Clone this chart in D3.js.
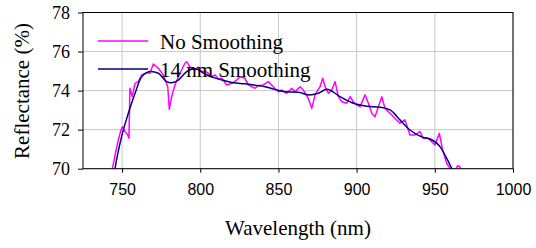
<!DOCTYPE html>
<html><head><meta charset="utf-8">
<script src="https://cdn.jsdelivr.net/npm/d3@7"></script>
<style>
body{margin:0;background:#fff}svg{display:block}
.serif{font-family:"Liberation Serif","Times New Roman",Times,"DejaVu Serif",serif !important}
.sans{font-family:"Liberation Sans",Arial,Helvetica,sans-serif !important}
</style>
</head><body>
<svg id="c" width="536" height="248"></svg>
<script>
const xTicks = [750, 800, 850, 900, 950, 1000];
const yTicks = [70, 72, 74, 76, 78];
const seriesNames = ["No Smoothing", "14 nm Smoothing"];
// No smoothing (raw) spectrum
const rawWl = [742,743.8,745.5,747.6,749,750.2,751.9,753.6,754.4,755,756.5,758.3,760.4,762.5,765.7,767.8,770,773.2,776.4,779.2,780.2,781.7,783.8,787,790.2,791.3,793.4,796.6,798.7,800.9,803,805.1,807,809.4,811.5,813.7,816.9,820.1,823.3,825.4,828.6,830.7,832.9,835,837.1,840.3,843.5,846.1,849.9,852.1,855.3,858.5,860.6,863.8,865.9,869.1,871.3,873.4,876.6,878.3,879.8,882,884.1,886.2,888.3,890.5,893.7,895.8,897.9,900.1,902.2,905.4,907.5,909.7,911.8,913.9,916.1,918.1,921.4,924.5,927.7,930.9,934.1,937.3,940.5,942.6,945.8,950.1,952.9,955,957.6,959.7,962,964.5,966,967.5];
const rawVal = [69.5,70.0,70.7,71.47,71.9,72.15,71.9,71.73,71.56,74.12,73.69,74.37,74.46,74.8,74.92,74.89,75.36,75.14,74.8,74.2,73.04,73.69,74.29,74.89,75.4,75.48,75.22,75.06,75.2,74.97,75.0,74.89,74.7,74.8,74.6,74.63,74.29,74.37,74.54,74.71,74.63,74.29,74.2,74.12,74.25,74.29,74.46,74.25,73.94,74.03,73.86,74.12,73.94,74.2,74.03,73.6,73.09,73.78,74.2,74.63,74.2,73.86,74.03,74.46,73.69,73.43,73.35,73.69,73.43,73.26,73.18,73.78,73.35,72.84,72.66,73.18,73.69,73.09,72.84,72.58,72.33,72.5,71.73,71.73,71.9,71.56,71.56,71.22,71.81,70.96,70.28,70.02,69.7,70.15,70.1,69.7];
// 14 nm smoothing
const smWl = [744.5,745.5,749.7,754,758.3,762.5,768.4,773.2,778.5,781.2,786,791.3,796.6,803,809,815.8,821.1,828.6,835,841.4,848,854.2,862.7,869.1,875.5,880.9,889.4,897.9,906.5,915,921.4,927.7,934.1,942.6,946.9,953.3,956.5,960.8,962.5];
const smVal = [69.5,70.02,71.64,72.84,73.86,74.71,74.98,74.89,74.46,74.4,74.54,74.97,75.12,74.85,74.65,74.5,74.4,74.35,74.28,74.2,74.05,73.94,73.92,73.78,73.86,74.07,73.69,73.35,73.2,73.15,73.01,72.5,71.98,71.6,71.52,71.13,70.7,70.02,69.7];

const svg = d3.select("#c");
const L = 83, R = 513, T = 12.5, B = 168.7;
const x = d3.scaleLinear().domain([725, 1000]).range([L, R]);
const y = d3.scaleLinear().domain([70, 78]).range([B, T]);

svg.append("g").selectAll("line").data(xTicks).join("line")
  .attr("x1", d => x(d)).attr("x2", d => x(d)).attr("y1", T).attr("y2", B)
  .attr("stroke", "#c8c8c8").attr("stroke-width", 1);
svg.append("g").selectAll("line").data(yTicks).join("line")
  .attr("x1", L).attr("x2", R).attr("y1", d => y(d)).attr("y2", d => y(d))
  .attr("stroke", "#c8c8c8").attr("stroke-width", 1);

svg.append("defs").append("clipPath").attr("id", "clip")
  .append("rect").attr("x", L).attr("y", T).attr("width", R - L).attr("height", B - T);

const raw = rawWl.map((w, i) => [w, rawVal[i]]);
const sm = smWl.map((w, i) => [w, smVal[i]]);
const g = svg.append("g").attr("clip-path", "url(#clip)");
g.append("path").datum(raw)
  .attr("d", d3.line().x(d => x(d[0])).y(d => y(d[1])))
  .attr("fill", "none").attr("stroke", "#ff00ff").attr("stroke-width", 1.5)
  .attr("stroke-linejoin", "round");
g.append("path").datum(sm)
  .attr("d", d3.line().x(d => x(d[0])).y(d => y(d[1])).curve(d3.curveMonotoneX))
  .attr("fill", "none").attr("stroke", "#000080").attr("stroke-width", 1.5);

svg.append("rect").attr("x", L).attr("y", T).attr("width", R - L).attr("height", B - T)
  .attr("fill", "none").attr("stroke", "#000").attr("stroke-width", 1);

const xAxis = svg.append("g").attr("transform", `translate(0,${B})`)
  .call(d3.axisBottom(x).tickValues(xTicks).tickFormat(d3.format("d")).tickSize(4).tickSizeOuter(0).tickPadding(11));
xAxis.attr("font-family", null).attr("font-size", null);
xAxis.select(".domain").remove();
xAxis.selectAll("text").attr("class", "sans").style("font-size", "16px").attr("fill", "#000");
const yAxis = svg.append("g").attr("transform", `translate(${L},0)`)
  .call(d3.axisLeft(y).tickValues(yTicks).tickSize(5).tickSizeOuter(0).tickPadding(8));
yAxis.attr("font-family", null).attr("font-size", null);
yAxis.select(".domain").remove();
yAxis.selectAll("text").attr("class", "serif").style("font-size", "18px").attr("fill", "#000");

svg.append("text").attr("class", "serif").attr("x", 298).attr("y", 235).attr("text-anchor", "middle")
  .style("font-size", "21px").text("Wavelength (nm)");
svg.append("text").attr("class", "serif").attr("transform", "translate(29,91) rotate(-90)").attr("text-anchor", "middle")
  .style("font-size", "21px").text("Reflectance (%)");

const colors = ["#ff00ff", "#000080"];
const leg = svg.append("g");
seriesNames.forEach((n, i) => {
  const yy = 41 + i * 28;
  leg.append("line").attr("x1", 98).attr("x2", 148).attr("y1", yy).attr("y2", yy)
    .attr("stroke", colors[i]).attr("stroke-width", 1.5);
  leg.append("text").attr("class", "serif").attr("x", 160).attr("y", yy + 7.5)
    .style("font-size", "21px").text(n);
});
</script>
</body></html>
